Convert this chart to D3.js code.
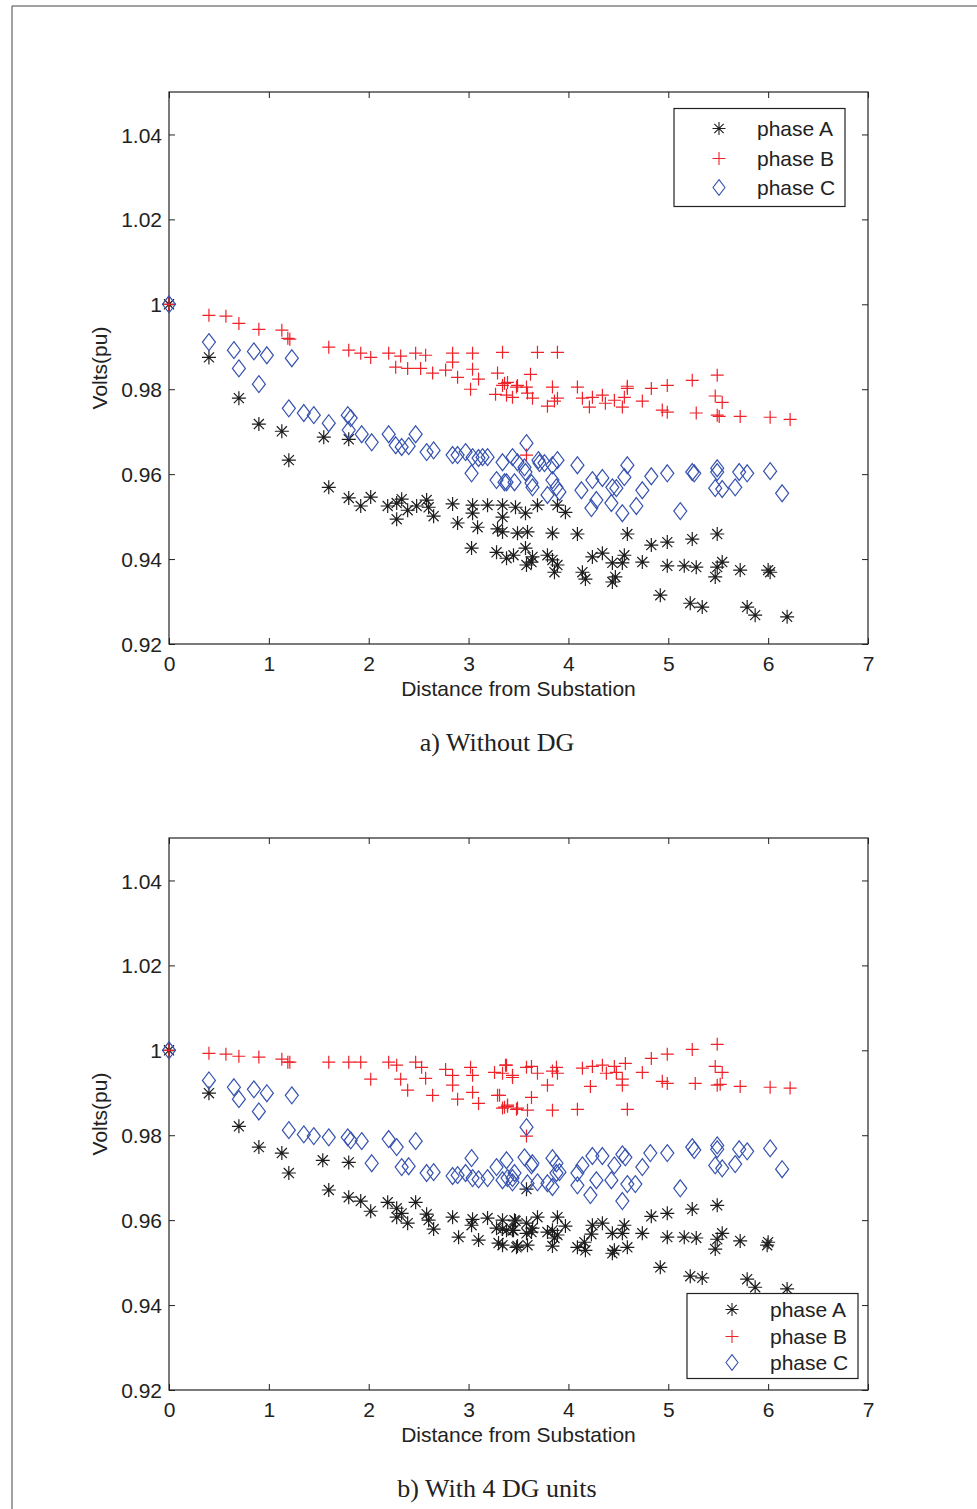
<!DOCTYPE html>
<html>
<head>
<meta charset="utf-8">
<script src="https://cdn.jsdelivr.net/npm/d3@7"></script>
<style>
  body { margin: 0; background: #fff; }
  svg { display: block; }
  .tick text { font-family: "Liberation Sans", Arial, sans-serif; font-size: 21px; fill: #222; }
</style>
</head>
<body>
<div id="chart"></div>
<script>
// axis ticks
const xTicks = [0, 1, 2, 3, 4, 5, 6, 7];
const xTickLabels = ['0', '1', '2', '3', '4', '5', '6', '7'];
const yTicks = [0.92, 0.94, 0.96, 0.98, 1, 1.02, 1.04];
const yTickLabels = ['0.92', '0.94', '0.96', '0.98', '1', '1.02', '1.04'];
const legendLabels = ['phase A', 'phase B', 'phase C'];

// a) Without DG  -- [distance, volts pu]
const phaseA_noDG = [
  [0, 1.0], [0.40, 0.9875], [0.70, 0.9779], [0.90, 0.9718], [1.13, 0.9701], [1.20, 0.9633], [1.55, 0.9687], [1.80, 0.9682],
  [1.60, 0.9569], [1.80, 0.9544], [1.92, 0.9525], [2.02, 0.9546], [2.19, 0.9525], [2.28, 0.9532], [2.28, 0.9494], [2.33, 0.9541],
  [2.39, 0.9515], [2.48, 0.9525], [2.58, 0.9539], [2.60, 0.9522], [2.65, 0.9501], [2.84, 0.9530], [2.89, 0.9485], [3.04, 0.9527],
  [3.04, 0.9508], [3.09, 0.9475], [3.19, 0.9527], [3.03, 0.9426], [3.28, 0.9416], [3.34, 0.9527], [3.34, 0.9499], [3.29, 0.9471],
  [3.34, 0.9464], [3.38, 0.9402], [3.45, 0.9409], [3.47, 0.9522], [3.57, 0.9508], [3.49, 0.9461], [3.59, 0.9464], [3.57, 0.9426],
  [3.58, 0.9386], [3.63, 0.9393], [3.64, 0.9405], [3.69, 0.9527], [3.89, 0.9527], [3.97, 0.9510], [3.84, 0.9461], [4.09, 0.9459],
  [3.79, 0.9409], [3.84, 0.9398], [3.86, 0.9369], [3.89, 0.9386], [4.14, 0.9369], [4.17, 0.9353], [4.24, 0.9405], [4.34, 0.9414],
  [4.44, 0.9391], [4.47, 0.9358], [4.44, 0.9346], [4.56, 0.9409], [4.54, 0.9391], [4.59, 0.9459], [4.74, 0.9393], [4.83, 0.9433],
  [4.99, 0.9440], [4.99, 0.9384], [5.16, 0.9384], [5.28, 0.9381], [5.24, 0.9447], [5.49, 0.9459], [5.47, 0.9358], [5.49, 0.9381],
  [5.54, 0.9393], [5.72, 0.9374], [6.00, 0.9374], [6.02, 0.9369], [4.92, 0.9315], [5.22, 0.9296], [5.34, 0.9287], [5.79, 0.9287],
  [5.87, 0.9268], [6.19, 0.9264]
];
const phaseB_noDG = [
  [0, 1.0], [0.40, 0.9974], [0.57, 0.9972], [0.70, 0.9955], [0.90, 0.9941], [1.13, 0.9939], [1.19, 0.9920], [1.21, 0.9918],
  [1.60, 0.9899], [1.80, 0.9892], [1.92, 0.9885], [2.02, 0.9875], [2.20, 0.9885], [2.32, 0.9878], [2.47, 0.9885], [2.57, 0.9880],
  [2.27, 0.9852], [2.39, 0.9849], [2.52, 0.9849], [2.64, 0.9838], [2.77, 0.9845], [2.84, 0.9885], [2.84, 0.9864], [2.89, 0.9828],
  [3.04, 0.9885], [3.04, 0.9847], [3.10, 0.9824], [3.02, 0.9800], [3.34, 0.9887], [3.29, 0.9838], [3.34, 0.9809], [3.39, 0.9816],
  [3.27, 0.9788], [3.38, 0.9786], [3.44, 0.9781], [3.48, 0.9805], [3.62, 0.9835], [3.69, 0.9887], [3.89, 0.9887], [3.36, 0.9814],
  [3.49, 0.9809], [3.58, 0.9805], [3.84, 0.9805], [4.09, 0.9805], [4.59, 0.9807], [4.83, 0.9802], [4.99, 0.9809], [5.24, 0.9821],
  [5.49, 0.9833], [3.59, 0.9791], [3.64, 0.9779], [3.79, 0.9760], [3.86, 0.9772], [3.89, 0.9779], [4.14, 0.9779], [4.21, 0.9758],
  [4.24, 0.9781], [4.34, 0.9786], [4.37, 0.9767], [4.46, 0.9774], [4.54, 0.9758], [4.56, 0.9781], [4.59, 0.9802], [4.74, 0.9772],
  [4.94, 0.9751], [4.99, 0.9746], [5.28, 0.9744], [5.47, 0.9784], [5.54, 0.9769], [5.49, 0.9739], [5.51, 0.9736], [5.72, 0.9736],
  [6.02, 0.9734], [6.22, 0.9729], [3.58, 0.9645]
];
const phaseC_noDG = [
  [0, 1.0], [0.40, 0.9911], [0.65, 0.9892], [0.70, 0.9849], [0.85, 0.9889], [0.98, 0.9880], [0.90, 0.9812], [1.23, 0.9873],
  [1.20, 0.9755], [1.35, 0.9744], [1.45, 0.9739], [1.60, 0.9720], [1.79, 0.9739], [1.82, 0.9732], [1.80, 0.9704], [1.93, 0.9694],
  [2.03, 0.9675], [2.20, 0.9694], [2.27, 0.9668], [2.33, 0.9664], [2.40, 0.9666], [2.47, 0.9694], [2.58, 0.9652], [2.65, 0.9656],
  [2.84, 0.9645], [2.89, 0.9645], [2.97, 0.9652], [3.03, 0.9602], [3.04, 0.9640], [3.10, 0.9638], [3.14, 0.9640], [3.19, 0.9640],
  [3.28, 0.9586], [3.34, 0.9628], [3.38, 0.9581], [3.44, 0.9640], [3.46, 0.9581], [3.49, 0.9628], [3.58, 0.9673], [3.57, 0.9605],
  [3.63, 0.9579], [3.64, 0.9569], [3.70, 0.9633], [3.76, 0.9626], [3.79, 0.9551], [3.84, 0.9586], [3.88, 0.9569], [3.89, 0.9633],
  [3.91, 0.9558], [4.09, 0.9621], [4.13, 0.9562], [4.23, 0.9520], [4.24, 0.9586], [4.28, 0.9539], [4.34, 0.9591], [4.43, 0.9532],
  [4.44, 0.9569], [4.48, 0.9567], [4.54, 0.9508], [4.56, 0.9593], [4.59, 0.9621], [4.68, 0.9525], [4.74, 0.9562], [4.83, 0.9595],
  [4.99, 0.9602], [5.24, 0.9605], [5.26, 0.9602], [5.49, 0.9614], [5.49, 0.9605], [5.47, 0.9567], [5.54, 0.9565], [5.67, 0.9569],
  [5.71, 0.9605], [5.79, 0.9602], [6.02, 0.9607], [6.14, 0.9555], [5.12, 0.9513], [3.56, 0.9616], [3.71, 0.9626], [3.36, 0.9581],
  [3.84, 0.9621]
];

// b) With 4 DG units
const phaseA_DG = [
  [0, 1.0], [0.40, 0.9899], [0.70, 0.9821], [0.90, 0.9772], [1.13, 0.9758], [1.20, 0.9711], [1.54, 0.9741], [1.80, 0.9736],
  [1.60, 0.9671], [1.80, 0.9654], [1.92, 0.9645], [2.02, 0.9621], [2.19, 0.9642], [2.28, 0.9628], [2.33, 0.9616], [2.28, 0.9607],
  [2.39, 0.9593], [2.47, 0.9642], [2.58, 0.9614], [2.60, 0.9600], [2.65, 0.9579], [2.84, 0.9607], [2.90, 0.9560], [3.04, 0.9602],
  [3.03, 0.9588], [3.10, 0.9553], [3.19, 0.9605], [3.28, 0.9581], [3.30, 0.9546], [3.34, 0.9600], [3.34, 0.9579], [3.38, 0.9576],
  [3.34, 0.9541], [3.46, 0.9600], [3.45, 0.9576], [3.48, 0.9536], [3.58, 0.9673], [3.47, 0.9598], [3.58, 0.9593], [3.69, 0.9607],
  [3.89, 0.9607], [3.97, 0.9586], [3.44, 0.9576], [3.58, 0.9569], [3.63, 0.9572], [3.64, 0.9581], [3.79, 0.9572], [3.84, 0.9576],
  [3.89, 0.9565], [3.86, 0.9558], [3.49, 0.9539], [3.59, 0.9541], [3.84, 0.9539], [4.09, 0.9536], [4.59, 0.9536], [4.16, 0.9548],
  [4.17, 0.9529], [4.24, 0.9588], [4.34, 0.9593], [4.23, 0.9567], [4.44, 0.9569], [4.46, 0.9529], [4.44, 0.9522], [4.56, 0.9588],
  [4.54, 0.9569], [4.83, 0.9609], [4.99, 0.9616], [5.24, 0.9626], [5.49, 0.9635], [4.74, 0.9569], [4.99, 0.9560], [5.16, 0.9560],
  [5.28, 0.9558], [5.54, 0.9569], [5.49, 0.9555], [5.47, 0.9532], [5.72, 0.9551], [6.00, 0.9548], [5.99, 0.9541], [4.92, 0.9489],
  [5.22, 0.9468], [5.34, 0.9464], [5.79, 0.9461], [5.87, 0.9442], [6.19, 0.9438]
];
const phaseB_DG = [
  [0, 1.0], [0.40, 0.9993], [0.57, 0.9991], [0.70, 0.9986], [0.90, 0.9984], [1.13, 0.9979], [1.19, 0.9972], [1.21, 0.9972],
  [1.60, 0.9972], [1.80, 0.9972], [1.92, 0.9972], [2.02, 0.9932], [2.20, 0.9972], [2.28, 0.9965], [2.32, 0.9932], [2.47, 0.9972],
  [2.53, 0.9960], [2.57, 0.9934], [2.39, 0.9906], [2.64, 0.9894], [2.77, 0.9955], [2.84, 0.9941], [2.84, 0.9918], [2.89, 0.9885],
  [3.02, 0.9960], [3.04, 0.9941], [3.04, 0.9901], [3.10, 0.9875], [3.29, 0.9894], [3.26, 0.9948], [3.34, 0.9946], [3.38, 0.9965],
  [3.44, 0.9941], [3.34, 0.9864], [3.39, 0.9868], [3.48, 0.9861], [3.37, 0.9965], [3.44, 0.9936], [3.58, 0.9960], [3.63, 0.9962],
  [3.69, 0.9946], [3.84, 0.9951], [3.88, 0.9960], [3.89, 0.9946], [3.79, 0.9918], [4.14, 0.9958], [4.24, 0.9962], [4.34, 0.9965],
  [4.38, 0.9946], [4.46, 0.9962], [4.48, 0.9948], [4.57, 0.9969], [4.54, 0.9932], [4.54, 0.9918], [4.22, 0.9915], [4.74, 0.9948],
  [4.83, 0.9981], [4.99, 0.9991], [5.24, 1.0002], [5.49, 1.0014], [4.94, 0.9927], [4.99, 0.9922], [5.27, 0.9922], [5.47, 0.9962],
  [5.54, 0.9948], [5.49, 0.9918], [5.52, 0.9920], [5.72, 0.9915], [6.02, 0.9913], [6.22, 0.9911], [3.31, 0.9894], [3.36, 0.9866],
  [3.39, 0.9871], [3.49, 0.9864], [3.59, 0.9859], [3.63, 0.9889], [3.84, 0.9859], [4.09, 0.9861], [4.59, 0.9861], [3.58, 0.9798]
];
const phaseC_DG = [
  [0, 1.0], [0.40, 0.9929], [0.65, 0.9913], [0.70, 0.9885], [0.85, 0.9908], [0.98, 0.9899], [0.90, 0.9856], [1.23, 0.9894],
  [1.20, 0.9812], [1.35, 0.9802], [1.45, 0.9798], [1.60, 0.9795], [1.79, 0.9795], [1.82, 0.9788], [1.93, 0.9786], [2.03, 0.9734],
  [2.20, 0.9791], [2.28, 0.9772], [2.47, 0.9786], [2.33, 0.9725], [2.40, 0.9727], [2.58, 0.9711], [2.65, 0.9713], [2.84, 0.9704],
  [2.89, 0.9706], [3.03, 0.9746], [2.97, 0.9711], [3.04, 0.9699], [3.10, 0.9696], [3.19, 0.9699], [3.28, 0.9725], [3.38, 0.9741],
  [3.34, 0.9694], [3.39, 0.9699], [3.46, 0.9711], [3.44, 0.9689], [3.58, 0.9819], [3.56, 0.9748], [3.64, 0.9734], [3.63, 0.9729],
  [3.84, 0.9746], [3.88, 0.9734], [3.91, 0.9713], [4.09, 0.9711], [4.14, 0.9729], [4.24, 0.9751], [4.34, 0.9751], [4.46, 0.9729],
  [4.54, 0.9755], [4.57, 0.9748], [4.74, 0.9725], [4.82, 0.9758], [4.99, 0.9758], [5.24, 0.9772], [5.26, 0.9765], [5.49, 0.9776],
  [5.49, 0.9767], [5.71, 0.9767], [5.79, 0.9762], [6.02, 0.9769], [6.14, 0.9720], [5.47, 0.9729], [5.54, 0.9722], [5.67, 0.9732],
  [5.12, 0.9675], [3.44, 0.9699], [3.59, 0.9687], [3.69, 0.9689], [3.79, 0.9687], [3.84, 0.9678], [4.09, 0.9682], [4.28, 0.9694],
  [4.22, 0.9659], [4.43, 0.9694], [4.54, 0.9645], [4.59, 0.9685], [4.67, 0.9685], [3.88, 0.9711]
];

const seriesStyle = [
  { shape: 'star', color: '#1e1e1e' },
  { shape: 'plus', color: '#ee2229' },
  { shape: 'diamond', color: '#3552b0' },
];

// marker outlines, centred on 0,0
function markerPath(shape, s) {
  if (shape === 'star') {
    const k = s * 0.72;
    return `M${-s},0H${s}M0,${-s}V${s}M${-k},${-k}L${k},${k}M${-k},${k}L${k},${-k}`;
  }
  if (shape === 'plus') {
    return `M${-s},0H${s}M0,${-s}V${s}`;
  }
  const w = s, h = s * 1.3;
  return `M0,${-h}L${w},0L0,${h}L${-w},0Z`;
}
const markerSize = { star: 7, plus: 6.5, diamond: 6.5 };

const width = 977, height = 1509;
const svg = d3.select('#chart').append('svg')
  .attr('width', width).attr('height', height);

// page frame
svg.append('path')
  .attr('d', 'M12,1509V6H977')
  .attr('fill', 'none').attr('stroke', '#444').attr('stroke-width', 1);

const panels = [
  {
    top: 92, series: [phaseA_noDG, phaseB_noDG, phaseC_noDG],
    legend: { x: 674, y: 108.5, w: 171, h: 98, rows: [20, 50, 79], mx: 45, tx: 83 },
    caption: 'a) Without DG', captionY: 751,
  },
  {
    top: 838, series: [phaseA_DG, phaseB_DG, phaseC_DG],
    legend: { x: 687, y: 1293.5, w: 171, h: 85, rows: [16, 43, 69], mx: 45, tx: 83 },
    caption: 'b) With 4 DG units', captionY: 1497,
  },
];

panels.forEach((p) => drawPanel(p));

function drawPanel(p) {
  const left = 169, right = 868;
  const top = p.top, bottom = p.top + 552;

  const x = d3.scaleLinear().domain([0, 7]).range([left, right]);
  const y = d3.scaleLinear().domain([0.92, 1.05]).range([bottom, top]);

  const g = svg.append('g');

  // inward ticks on all four sides
  const axB = g.append('g').attr('transform', `translate(0,${bottom})`)
    .call(d3.axisBottom(x).tickValues(xTicks).tickSizeInner(-6).tickSizeOuter(0).tickPadding(12)
      .tickFormat((d, i) => xTickLabels[i]));
  const axT = g.append('g').attr('transform', `translate(0,${top})`)
    .call(d3.axisTop(x).tickValues(xTicks).tickSizeInner(-6).tickSizeOuter(0).tickFormat(''));
  const axL = g.append('g').attr('transform', `translate(${left},0)`)
    .call(d3.axisLeft(y).tickValues(yTicks).tickSizeInner(-6).tickSizeOuter(0).tickPadding(7)
      .tickFormat((d, i) => yTickLabels[i]));
  const axR = g.append('g').attr('transform', `translate(${right},0)`)
    .call(d3.axisRight(y).tickValues(yTicks).tickSizeInner(-6).tickSizeOuter(0).tickFormat(''));

  [axB, axT, axL, axR].forEach((a) => {
    a.select('.domain').remove();
    a.selectAll('.tick line').attr('stroke', '#222');
  });
  axL.selectAll('.tick text').attr('dy', '0.36em');

  g.append('rect')
    .attr('x', left).attr('y', top)
    .attr('width', right - left).attr('height', bottom - top)
    .attr('fill', 'none').attr('stroke', '#222').attr('stroke-width', 1.2);

  // axis titles
  g.append('text')
    .attr('x', (left + right) / 2).attr('y', bottom + 52)
    .attr('text-anchor', 'middle')
    .style('font-family', '"Liberation Sans", Arial, sans-serif')
    .style('font-size', '21px').attr('fill', '#222')
    .text('Distance from Substation');

  g.append('text')
    .attr('transform', `translate(107,${(top + bottom) / 2}) rotate(-90)`)
    .attr('text-anchor', 'middle')
    .style('font-family', '"Liberation Sans", Arial, sans-serif')
    .style('font-size', '21px').attr('fill', '#222')
    .text('Volts(pu)');

  // data markers
  p.series.forEach((data, si) => {
    const st = seriesStyle[si];
    g.append('g').selectAll('path')
      .data(data)
      .join('path')
      .attr('transform', (d) => `translate(${x(d[0])},${y(d[1])})`)
      .attr('d', markerPath(st.shape, markerSize[st.shape]))
      .attr('fill', 'none')
      .attr('stroke', st.color)
      .attr('stroke-width', 1.2);
  });

  // legend
  const L = p.legend;
  const lg = g.append('g').attr('transform', `translate(${L.x},${L.y})`);
  lg.append('rect')
    .attr('width', L.w).attr('height', L.h)
    .attr('fill', '#fff').attr('stroke', '#222').attr('stroke-width', 1.2);
  legendLabels.forEach((lab, i) => {
    const st = seriesStyle[i];
    lg.append('path')
      .attr('transform', `translate(${L.mx},${L.rows[i]})`)
      .attr('d', markerPath(st.shape, st.shape === 'diamond' ? 6 : 6.5))
      .attr('fill', 'none').attr('stroke', st.color).attr('stroke-width', 1.1);
    lg.append('text')
      .attr('x', L.tx).attr('y', L.rows[i]).attr('dy', '0.36em')
      .style('font-family', '"Liberation Sans", Arial, sans-serif')
      .style('font-size', '21px').attr('fill', '#222')
      .text(lab);
  });

  // caption
  svg.append('text')
    .attr('x', 497).attr('y', p.captionY)
    .attr('text-anchor', 'middle')
    .style('font-family', '"Liberation Serif", "Times New Roman", serif')
    .style('font-size', '26px').attr('fill', '#222')
    .text(p.caption);
}
</script>
</body>
</html>
